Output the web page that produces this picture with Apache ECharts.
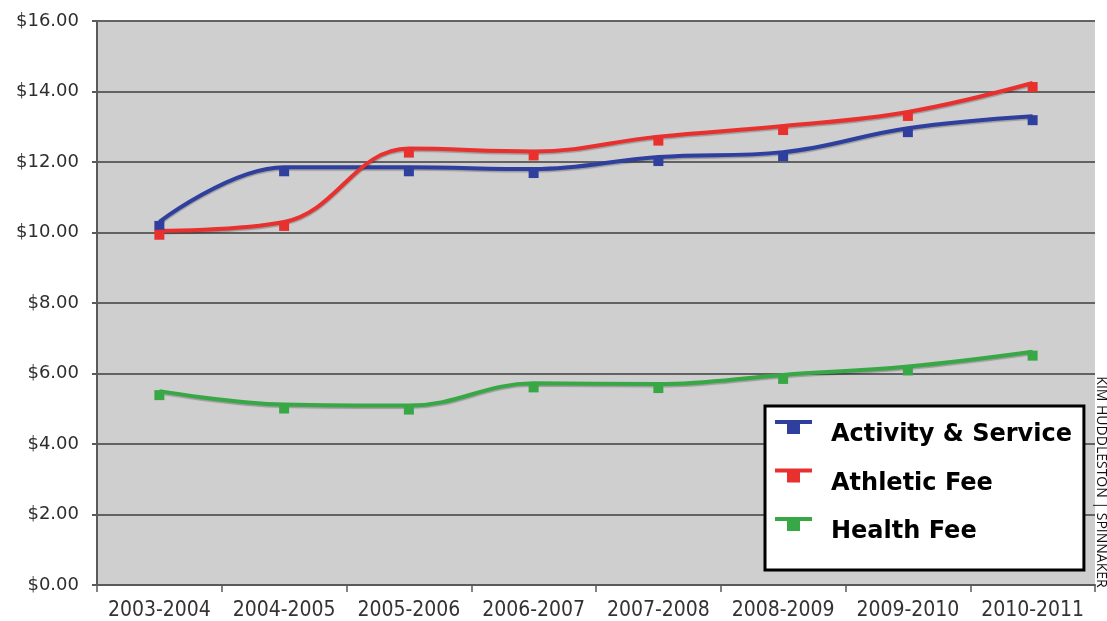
<!DOCTYPE html>
<html>
<head>
<meta charset="utf-8">
<title>Student Fees 2003-2011</title>
<script src="https://cdn.jsdelivr.net/npm/echarts@6/dist/echarts.min.js"></script>
<style>
  html, body { margin: 0; padding: 0; background: #ffffff; }
  #chart { width: 1107px; height: 621px; }
</style>
</head>
<body>
<div id="chart"></div>
<script>
// School years on the category axis
const categories = ['2003-2004', '2004-2005', '2005-2006', '2006-2007', '2007-2008', '2008-2009', '2009-2010', '2010-2011'];

// Fee per student, in dollars
const activityService = [10.30, 11.85, 11.85, 11.80, 12.14, 12.28, 12.96, 13.30];
const athleticFee = [10.05, 10.30, 12.38, 12.30, 12.72, 13.02, 13.42, 14.24];
const healthFee = [5.50, 5.12, 5.09, 5.72, 5.70, 5.96, 6.20, 6.62];

const seriesNames = ['Activity & Service', 'Athletic Fee', 'Health Fee'];
const seriesColors = ['#2f3f9e', '#e8312f', '#38a846'];

// Value axis range
const yMin = 0;
const yMax = 16;
const yStep = 2;

// Legend key: a bar with a small square hanging under it; the hairline at the
// bottom stretches the icon box so the key sits above the label's centre.
const legendIcon = 'path://M0,0H37V4H0Z M12,4H25V14H12Z M18,29.95H18.02V30H18Z';

const chart = echarts.init(document.getElementById('chart'), null, { renderer: 'canvas' });

function lineSeries(name, data, color) {
  return {
    name: name,
    type: 'line',
    data: data,
    smooth: 0.4,
    symbol: 'rect',
    symbolSize: [10, 10],
    symbolOffset: [0, 4],
    showSymbol: true,
    itemStyle: { color: color },
    lineStyle: {
      color: color,
      width: 4,
      shadowColor: 'rgba(0,0,0,0.25)',
      shadowBlur: 1,
      shadowOffsetY: 1.5
    },
    emphasis: { disabled: true },
    animation: false,
    z: 3
  };
}

chart.setOption({
  backgroundColor: '#ffffff',
  animation: false,
  grid: {
    left: 97,
    right: 12,
    top: 21,
    bottom: 36,
    show: true,
    backgroundColor: '#cfcfcf',
    borderWidth: 0
  },
  xAxis: {
    type: 'category',
    data: categories,
    boundaryGap: true,
    axisLine: { show: true, lineStyle: { color: '#5a5a5a', width: 2 } },
    axisTick: { show: true, alignWithLabel: false, length: 7, lineStyle: { color: '#5a5a5a', width: 1.5 } },
    axisLabel: {
      color: '#333333',
      fontFamily: '"DejaVu Sans Condensed", "Liberation Sans Narrow", "DejaVu Sans", sans-serif',
      fontSize: 21,
      margin: 15,
      interval: 0
    },
    splitLine: { show: false }
  },
  yAxis: {
    type: 'value',
    min: yMin,
    max: yMax,
    interval: yStep,
    axisLine: { show: true, lineStyle: { color: '#5a5a5a', width: 2 } },
    axisTick: { show: true, length: 5, lineStyle: { color: '#5a5a5a', width: 2 } },
    axisLabel: {
      color: '#2e2e2e',
      fontFamily: '"DejaVu Sans", sans-serif',
      fontSize: 18,
      margin: 18,
      formatter: function (v) { return '$' + v.toFixed(2); }
    },
    splitLine: { show: true, lineStyle: { color: '#626262', width: 2 } }
  },
  legend: {
    orient: 'vertical',
    left: 765,
    top: 406,
    data: seriesNames,
    icon: legendIcon,
    itemWidth: 37,
    itemHeight: 30,
    itemGap: 18.5,
    selectedMode: false,
    backgroundColor: '#ffffff',
    borderColor: '#000000',
    borderWidth: 3,
    borderRadius: 0,
    padding: [14, 12, 23, 10],
    textStyle: {
      color: '#000000',
      fontFamily: '"DejaVu Sans", sans-serif',
      fontWeight: 'bold',
      fontSize: 24,
      padding: [0, 0, 0, 14]
    },
    z: 10
  },
  graphic: [
    {
      type: 'text',
      x: 1101,
      y: 482,
      rotation: -Math.PI / 2,
      style: {
        text: 'KIM HUDDLESTON | SPINNAKER',
        fill: '#111111',
        font: '14px "Open Sans", sans-serif',
        textAlign: 'center',
        textVerticalAlign: 'middle'
      },
      z: 20
    }
  ],
  series: [
    lineSeries(seriesNames[0], activityService, seriesColors[0]),
    lineSeries(seriesNames[1], athleticFee, seriesColors[1]),
    lineSeries(seriesNames[2], healthFee, seriesColors[2])
  ]
});
</script>
</body>
</html>
